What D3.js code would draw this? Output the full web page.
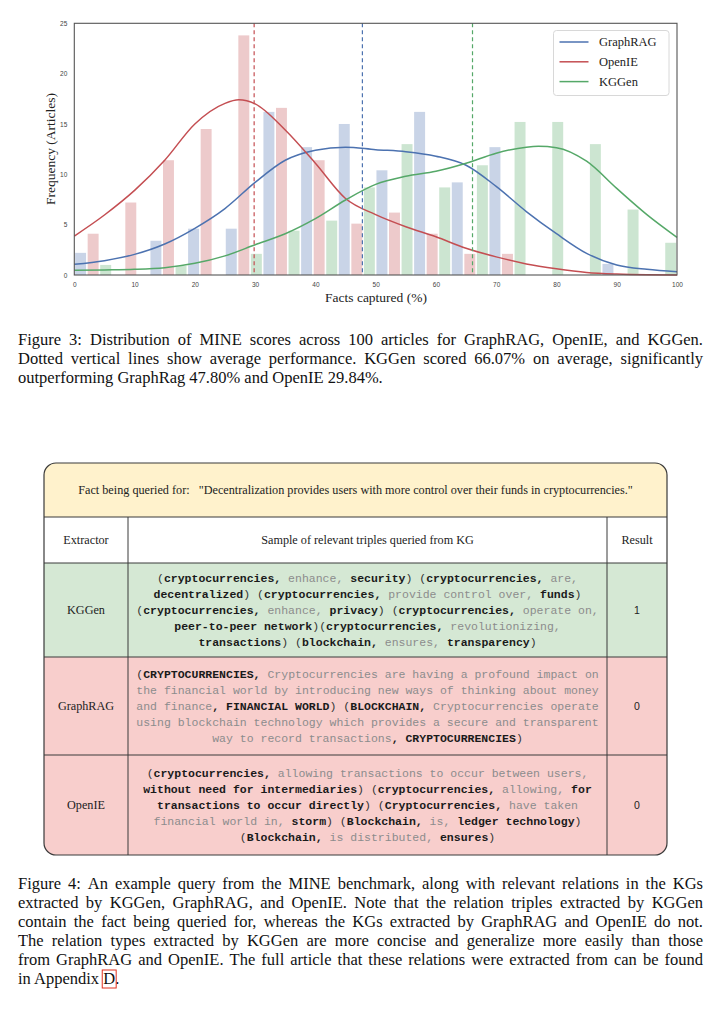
<!DOCTYPE html>
<html>
<head>
<meta charset="utf-8">
<title>MINE scores</title>
<script src="https://d3js.org/d3.v7.min.js"></script>
<style>
  body { margin: 0; background: #fff; }
  svg text { white-space: pre; }
</style>
</head>
<body>
<svg id="page" width="723" height="1012"></svg>
<script>
// ---- data ------------------------------------------------------------------

// histogram bins: left edge of each bin (% facts captured)
const binStarts = [0, 6.25, 12.5, 18.75, 25, 31.25, 37.5, 43.75, 50, 56.25, 62.5, 68.75, 75, 81.25, 87.5, 93.75];
const binWidth = 6.25;

// bar heights per bin (articles)
const graphragCounts = [2.2, 0, 3.4, 4.6, 4.6, 16.2, 12.7, 15.0, 10.4, 16.2, 9.2, 12.7, 0, 0, 1.1, 0];
const openieCounts   = [4.1, 7.2, 11.4, 14.5, 23.8, 16.6, 11.4, 5.1, 6.2, 4.1, 2.1, 2.1, 0, 0, 0, 0];
const kggenCounts    = [1.0, 0, 0.9, 0, 2.1, 4.4, 5.4, 8.7, 13.0, 8.7, 10.9, 15.2, 15.2, 13.0, 6.5, 3.2];

// smoothed density curves, [facts captured, frequency]
const graphragKde = [[0,1.06],[5,1.42],[10,2.05],[15,3.08],[20,4.64],[25,6.6],[30,9.2],[35,11.4],[40,12.4],[45,12.7],[50,12.45],[55,12.25],[60,11.8],[65,10.9],[70,8.8],[75,6.3],[80,4.1],[85,2.15],[90,1.0],[95,0.56],[100,0.33]];
const openieKde   = [[0,3.87],[5,5.96],[10,8.4],[15,11.4],[20,15.0],[25,17.05],[27.3,17.4],[30,17.0],[35,14.4],[40,11.1],[45,7.6],[50,6.0],[55,4.8],[60,3.8],[65,2.65],[70,1.8],[75,1.1],[80,0.62],[85,0.26],[90,0.1],[95,0.03],[100,0.01]];
const kggenKde    = [[0,0.46],[5,0.5],[10,0.56],[15,0.73],[20,1.16],[25,1.9],[30,3.0],[35,4.1],[40,5.6],[45,7.45],[50,9.0],[55,9.8],[60,10.3],[65,11.1],[70,12.1],[75,12.7],[77,12.78],[80,12.65],[85,11.3],[90,8.6],[95,6.0],[100,3.74]];

const seriesNames  = ['GraphRAG', 'OpenIE', 'KGGen'];
const seriesColors = ['#4c72b0', '#c44e52', '#55a868'];
const meanScores   = [47.80, 29.84, 66.07];

const xTicks = [0, 10, 20, 30, 40, 50, 60, 70, 80, 90, 100];
const yTicks = [0, 5, 10, 15, 20, 25];

// captions
const fig3Lines = [
  'Figure 3: Distribution of MINE scores across 100 articles for GraphRAG, OpenIE, and KGGen.',
  'Dotted vertical lines show average performance.  KGGen scored 66.07% on average, significantly',
  'outperforming GraphRag 47.80% and OpenIE 29.84%.'
];
const fig4Lines = [
  'Figure 4:  An example query from the MINE benchmark, along with relevant relations in the KGs',
  'extracted by KGGen, GraphRAG, and OpenIE. Note that the relation triples extracted by KGGen',
  'contain the fact being queried for, whereas the KGs extracted by GraphRAG and OpenIE do not.',
  'The relation types extracted by KGGen are more concise and generalize more easily than those',
  'from GraphRAG and OpenIE. The full article that these relations were extracted from can be found',
  'in Appendix D.'
];

// table: *bold entity*, ~grey relation~, rest plain
const queryFact = 'Fact being queried for:   "Decentralization provides users with more control over their funds in cryptocurrencies."';
const tableHeaders = ['Extractor', 'Sample of relevant triples queried from KG', 'Result'];
const extractors = ['KGGen', 'GraphRAG', 'OpenIE'];
const results = ['1', '0', '0'];
const kggenTriples = [
  '(*cryptocurrencies,* ~enhance,~ *security*) (*cryptocurrencies,* ~are,~',
  '*decentralized*) (*cryptocurrencies,* ~provide control over,~ *funds*)',
  '(*cryptocurrencies,* ~enhance,~ *privacy*) (*cryptocurrencies,* ~operate on,~',
  '*peer-to-peer network*)(*cryptocurrencies,* ~revolutionizing,~',
  '*transactions*) (*blockchain,* ~ensures,~ *transparency*)'
];
const graphragTriples = [
  '(*CRYPTOCURRENCIES,* ~Cryptocurrencies are having a profound impact on~',
  '~the financial world by introducing new ways of thinking about money~',
  '~and finance~*, FINANCIAL WORLD*) (*BLOCKCHAIN,* ~Cryptocurrencies operate~',
  '~using blockchain technology which provides a secure and transparent~',
  '~way to record transactions~*, CRYPTOCURRENCIES*)'
];
const openieTriples = [
  '(*cryptocurrencies,* ~allowing transactions to occur between users,~',
  '*without need for intermediaries*) (*cryptocurrencies,* ~allowing,~ *for*',
  '*transactions to occur directly*) (*Cryptocurrencies,* ~have taken~',
  '~financial world in,~ *storm*) (*Blockchain,* ~is,~ *ledger technology*)',
  '(*Blockchain,* ~is distributed,~ *ensures*)'
];

// ---- page -------------------------------------------------------------------

const svg = d3.select('#page');
svg.append('rect').attr('width', 723).attr('height', 1012).attr('fill', '#fff');

const serif = "'Liberation Serif', 'Times New Roman', serif";
const sans = "'Liberation Sans', Arial, sans-serif";
const mono = "'Liberation Mono', 'Courier New', monospace";

// ---- histogram chart --------------------------------------------------------

const x = d3.scaleLinear().domain([0, 100]).range([74.3, 677]);
const y = d3.scaleLinear().domain([0, 25]).range([275, 23.3]);

const chart = svg.append('g');
const allCounts = [graphragCounts, openieCounts, kggenCounts];
const slot = binWidth / 3;

// dodged bars, one slot per series in each bin
allCounts.forEach((counts, si) => {
  chart.append('g')
    .selectAll('rect')
    .data(binStarts.map((b, i) => ({ start: b + si * slot, value: counts[i] })).filter(d => d.value > 0))
    .join('rect')
    .attr('x', d => x(d.start) + 0.8)
    .attr('width', d => x(d.start + slot) - x(d.start) - 1.6)
    .attr('y', d => y(d.value))
    .attr('height', d => y(0) - y(d.value))
    .attr('fill', seriesColors[si])
    .attr('fill-opacity', 0.3);
});

// density curves
const line = d3.line()
  .x(d => x(d[0]))
  .y(d => y(d[1]))
  .curve(d3.curveMonotoneX);

[graphragKde, openieKde, kggenKde].forEach((pts, si) => {
  chart.append('path')
    .attr('d', line(pts))
    .attr('fill', 'none')
    .attr('stroke', seriesColors[si])
    .attr('stroke-width', 1.5);
});

// mean lines
meanScores.forEach((m, si) => {
  chart.append('line')
    .attr('x1', x(m)).attr('x2', x(m))
    .attr('y1', y(25)).attr('y2', y(0))
    .attr('stroke', seriesColors[si])
    .attr('stroke-width', 1.2)
    .attr('stroke-dasharray', '4,3');
});

// axes (no tick marks, seaborn white style)
const xAxis = chart.append('g')
  .attr('transform', `translate(0, ${y(0)})`)
  .call(d3.axisBottom(x).tickValues(xTicks).tickSize(0).tickPadding(7));
const yAxis = chart.append('g')
  .attr('transform', `translate(${x(0)}, 0)`)
  .call(d3.axisLeft(y).tickValues(yTicks).tickSize(0).tickPadding(7));
[xAxis, yAxis].forEach(a => {
  a.select('.domain').remove();
  a.selectAll('text').attr('font-family', sans).attr('font-size', 6.5).attr('fill', '#444');
});

// frame
chart.append('rect')
  .attr('x', x(0)).attr('y', y(25))
  .attr('width', x(100) - x(0)).attr('height', y(0) - y(25))
  .attr('fill', 'none').attr('stroke', '#555').attr('stroke-width', 1.1);

chart.append('text')
  .attr('x', 376).attr('y', 297)
  .attr('text-anchor', 'middle').attr('dominant-baseline', 'central')
  .attr('font-family', serif).attr('font-size', 13.5).attr('fill', '#222')
  .text('Facts captured (%)');

chart.append('text')
  .attr('transform', 'translate(50, 149) rotate(-90)')
  .attr('text-anchor', 'middle').attr('dominant-baseline', 'central')
  .attr('font-family', serif).attr('font-size', 13.5).attr('fill', '#222')
  .text('Frequency (Articles)');

// legend
const legend = chart.append('g');
legend.append('rect')
  .attr('x', 553.5).attr('y', 30.5).attr('width', 115.5).attr('height', 65)
  .attr('rx', 3).attr('fill', '#fff').attr('fill-opacity', 0.85)
  .attr('stroke', '#d8d8d8').attr('stroke-width', 1);
seriesNames.forEach((name, i) => {
  const ly = 42 + i * 19.8;
  legend.append('line')
    .attr('x1', 559.5).attr('x2', 588.5).attr('y1', ly).attr('y2', ly)
    .attr('stroke', seriesColors[i]).attr('stroke-width', 1.5);
  legend.append('text')
    .attr('x', 599).attr('y', ly)
    .attr('dominant-baseline', 'central')
    .attr('font-family', serif).attr('font-size', 12.5).attr('fill', '#222')
    .text(name);
});

// ---- captions ---------------------------------------------------------------

const capLeft = 18, capRight = 703, capSize = 16.5;

function drawParagraph(lines, firstBaseline, lineGap) {
  const texts = [];
  lines.forEach((ln, li) => {
    const ty = firstBaseline + li * lineGap;
    const t = svg.append('text')
      .attr('y', ty)
      .attr('font-family', serif).attr('font-size', capSize).attr('fill', '#111');
    if (li === lines.length - 1) {
      t.attr('x', capLeft).text(ln);
    } else {
      // justify: spread words over the full column width
      const words = ln.split(/\s+/);
      const spans = words.map(w => t.append('tspan').text(w));
      const widths = spans.map(s => s.node().getComputedTextLength());
      const gap = (capRight - capLeft - d3.sum(widths)) / (words.length - 1);
      let cx = capLeft;
      spans.forEach((s, i) => { s.attr('x', cx); cx += widths[i] + gap; });
    }
    texts.push(t);
  });
  return texts;
}

drawParagraph(fig3Lines, 345, 19);
const fig4Texts = drawParagraph(fig4Lines, 889, 19);

// red link box around the appendix letter
const lastNode = fig4Texts[fig4Texts.length - 1].node();
const dIdx = fig4Lines[fig4Lines.length - 1].indexOf('D.');
const dBox = lastNode.getExtentOfChar(dIdx);
svg.append('rect')
  .attr('x', dBox.x - 1).attr('y', dBox.y + 1)
  .attr('width', dBox.width + 2).attr('height', dBox.height - 1)
  .attr('fill', 'none').attr('stroke', '#e0301e').attr('stroke-width', 1);

// ---- table ------------------------------------------------------------------

const tL = 44, tR = 667, tT = 463, tB = 855;
const colA = 128, colB = 607;
const rowEdges = [tT, 517, 563, 657, 755, tB];
const rowFills = ['#fff2cc', '#ffffff', '#d5e8d4', '#f8cecc', '#f8cecc'];
const border = '#3a3a3a';

svg.append('clipPath').attr('id', 'tclip')
  .append('rect').attr('x', tL).attr('y', tT).attr('width', tR - tL).attr('height', tB - tT).attr('rx', 12);

const table = svg.append('g');
const fills = table.append('g').attr('clip-path', 'url(#tclip)');
rowFills.forEach((c, i) => {
  fills.append('rect')
    .attr('x', tL).attr('y', rowEdges[i])
    .attr('width', tR - tL).attr('height', rowEdges[i + 1] - rowEdges[i])
    .attr('fill', c);
});

rowEdges.slice(1, -1).forEach(ry => {
  table.append('line')
    .attr('x1', tL).attr('x2', tR).attr('y1', ry).attr('y2', ry)
    .attr('stroke', border).attr('stroke-width', 1);
});
[colA, colB].forEach(cx => {
  table.append('line')
    .attr('x1', cx).attr('x2', cx).attr('y1', rowEdges[1]).attr('y2', tB)
    .attr('stroke', border).attr('stroke-width', 1);
});
table.append('rect')
  .attr('x', tL).attr('y', tT).attr('width', tR - tL).attr('height', tB - tT).attr('rx', 12)
  .attr('fill', 'none').attr('stroke', border).attr('stroke-width', 1.2);

const colCenters = [(tL + colA) / 2, (colA + colB) / 2, (colB + tR) / 2];

table.append('text')
  .attr('x', (tL + tR) / 2).attr('y', (rowEdges[0] + rowEdges[1]) / 2)
  .attr('text-anchor', 'middle').attr('dominant-baseline', 'central')
  .attr('font-family', serif).attr('font-size', 12.2).attr('fill', '#222')
  .text(queryFact);

tableHeaders.forEach((h, i) => {
  table.append('text')
    .attr('x', colCenters[i]).attr('y', (rowEdges[1] + rowEdges[2]) / 2)
    .attr('text-anchor', 'middle').attr('dominant-baseline', 'central')
    .attr('font-family', serif).attr('font-size', 12.2).attr('fill', '#222')
    .text(h);
});

const tripleRows = [kggenTriples, graphragTriples, openieTriples];
const lineH = 16;
tripleRows.forEach((rows, ri) => {
  const midY = (rowEdges[ri + 2] + rowEdges[ri + 3]) / 2;
  table.append('text')
    .attr('x', colCenters[0]).attr('y', midY)
    .attr('text-anchor', 'middle').attr('dominant-baseline', 'central')
    .attr('font-family', serif).attr('font-size', 12.2).attr('fill', '#222')
    .text(extractors[ri]);
  table.append('text')
    .attr('x', colCenters[2]).attr('y', midY)
    .attr('text-anchor', 'middle').attr('dominant-baseline', 'central')
    .attr('font-family', sans).attr('font-size', 10.5).attr('fill', '#222')
    .text(results[ri]);

  rows.forEach((markup, li) => {
    const ty = midY + (li - (rows.length - 1) / 2) * lineH;
    const t = table.append('text')
      .attr('x', colCenters[1]).attr('y', ty)
      .attr('text-anchor', 'middle').attr('dominant-baseline', 'central')
      .attr('font-family', mono).attr('font-size', 11.5);
    markup.split(/(\*[^*]*\*|~[^~]*~)/).filter(s => s.length).forEach(seg => {
      const sp = t.append('tspan');
      if (seg[0] === '*') {
        sp.text(seg.slice(1, -1)).attr('font-weight', 'bold').attr('fill', '#1a1a1a');
      } else if (seg[0] === '~') {
        sp.text(seg.slice(1, -1)).attr('fill', '#8c8c8c');
      } else {
        sp.text(seg).attr('fill', '#333');
      }
    });
  });
});
</script>
</body>
</html>
